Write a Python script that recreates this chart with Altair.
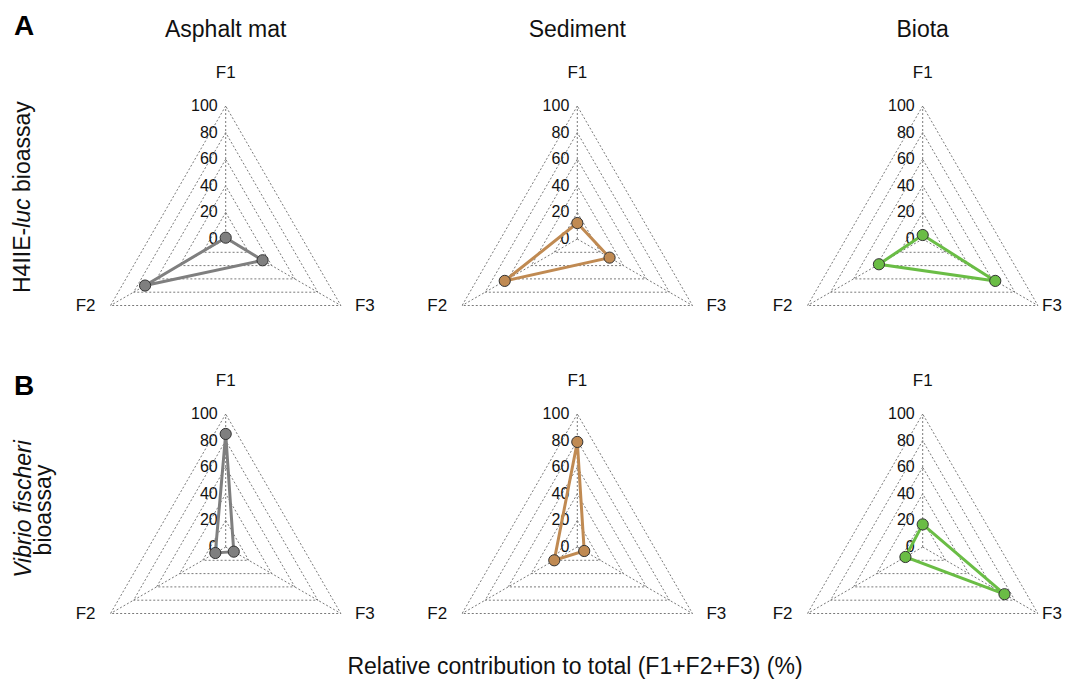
import altair as alt
import pandas as pd

# ---------------- data ----------------
samples = ["Asphalt mat", "Sediment", "Biota"]
factors = ["F1", "F2", "F3"]
h4iie_F1 = [1, 12, 3]
h4iie_F2 = [70, 63, 38]
h4iie_F3 = [32, 28, 63]
vibrio_F1 = [85, 79, 17]
vibrio_F2 = [9, 20, 15]
vibrio_F3 = [7, 6, 71]
grid_levels = [20, 40, 60, 80, 100]
tick_values = [0, 20, 40, 60, 80, 100]
colors = ["#7f7f7f", "#c08a52", "#6abd45"]

# ---------------- layout constants (chart pixels) ----------------
W, H = 1056, 672
K = 1.33  # px per % unit
CX = "[217.7, 569.3, 914.7]"
CY = "[231, 539]"
FONT = "Liberation Sans"

rows_data = [(h4iie_F1, h4iie_F2, h4iie_F3), (vibrio_F1, vibrio_F2, vibrio_F3)]

pts = []
for r, (f1, f2, f3) in enumerate(rows_data):
    for c, s in enumerate(samples):
        vals = [f1[c], f2[c], f3[c]]
        for k in range(4):
            fi = k % 3
            pts.append(dict(row=r, col=c, pid=r * 3 + c, sample=s, factor=factors[fi],
                            fidx=fi, order=k, value=vals[fi]))
pts_df = pd.DataFrame(pts)

grid = []
for r in range(2):
    for c in range(3):
        for lv in grid_levels:
            for k in range(4):
                grid.append(dict(row=r, col=c, gid=f"{r}-{c}-{lv}", fidx=k % 3, order=k, value=lv))
grid_df = pd.DataFrame(grid)

spokes = []
for r in range(2):
    for c in range(3):
        for fi in range(3):
            spokes.append(dict(row=r, col=c, fidx=fi, value=grid_levels[-1], factor=factors[fi]))
spokes_df = pd.DataFrame(spokes)

ticks = []
for r in range(2):
    for c in range(3):
        for v in tick_values:
            ticks.append(dict(row=r, col=c, value=v, label=str(v)))
ticks_df = pd.DataFrame(ticks)

# F1 up, F2 lower-left, F3 lower-right
ANG = "-datum.fidx * 2 * PI / 3"
XEXP = f"{CX}[datum.col] + datum.value * {K} * sin({ANG})"
YEXP = f"{CY}[datum.row] - datum.value * {K} * cos({ANG})"

xs = alt.Scale(domain=[0, W], nice=False, zero=False)
ys = alt.Scale(domain=[0, H], nice=False, zero=False, reverse=True)
X = alt.X("x:Q", scale=xs, axis=None)
Y = alt.Y("y:Q", scale=ys, axis=None)
color = alt.Color("sample:N", scale=alt.Scale(domain=samples, range=colors), legend=None)

grid_layer = alt.Chart(grid_df).transform_calculate(x=XEXP, y=YEXP).mark_line(
    color="#7a7a7a", strokeWidth=1, strokeDash=[2, 2]
).encode(x=X, y=Y, detail="gid:N", order="order:Q")

spoke_layer = alt.Chart(spokes_df).transform_calculate(
    x=f"{CX}[datum.col]", y=f"{CY}[datum.row]", x2=XEXP, y2=YEXP
).mark_rule(color="#7a7a7a", strokeWidth=1, strokeDash=[2, 2]).encode(
    x=X, y=Y, x2="x2:Q", y2="y2:Q"
)

tick_layer = alt.Chart(ticks_df).transform_calculate(
    x=f"{CX}[datum.col] - 8", y=f"{CY}[datum.row] - datum.value * {K}"
).mark_text(align="right", baseline="middle", fontSize=16, font=FONT, color="#111").encode(
    x=X, y=Y, text="label:N"
)

R = 100 * K
flab_base = alt.Chart(spokes_df).transform_calculate(
    x=f"{CX}[datum.col]", y=f"{CY}[datum.row]"
)
f1_layer = flab_base.transform_filter("datum.fidx == 0").transform_calculate(
    yy=f"datum.y - {R} - 33"
).mark_text(align="center", baseline="middle", fontSize=17, font=FONT, color="#111").encode(
    x=X, y=alt.Y("yy:Q", scale=ys, axis=None), text="factor:N"
)
f2_layer = flab_base.transform_filter("datum.fidx == 1").transform_calculate(
    xx=f"datum.x - {R} * 0.866 - 15", yy=f"datum.y + {R} / 2"
).mark_text(align="right", baseline="middle", fontSize=17, font=FONT, color="#111").encode(
    x=alt.X("xx:Q", scale=xs, axis=None), y=alt.Y("yy:Q", scale=ys, axis=None), text="factor:N"
)
f3_layer = flab_base.transform_filter("datum.fidx == 2").transform_calculate(
    xx=f"min(datum.x + {R} * 0.866 + 14, {W} - 22)", yy=f"datum.y + {R} / 2"
).mark_text(align="left", baseline="middle", fontSize=17, font=FONT, color="#111").encode(
    x=alt.X("xx:Q", scale=xs, axis=None), y=alt.Y("yy:Q", scale=ys, axis=None), text="factor:N"
)

line_layer = alt.Chart(pts_df).transform_calculate(x=XEXP, y=YEXP).mark_line(strokeWidth=3).encode(
    x=X, y=Y, color=color, detail="pid:N", order="order:Q"
)
point_layer = alt.Chart(pts_df).transform_filter("datum.order < 3").transform_calculate(
    x=XEXP, y=YEXP
).mark_point(filled=True, size=125, opacity=1, stroke="#333333", strokeWidth=1).encode(
    x=X, y=Y, fill=alt.Fill("sample:N", scale=alt.Scale(domain=samples, range=colors), legend=None)
)

# ---------------- texts ----------------
title_df = pd.DataFrame({"col": [0, 1, 2], "label": samples})
title_layer = alt.Chart(title_df).transform_calculate(x=f"{CX}[datum.col]", y="28.7").mark_text(
    align="center", baseline="alphabetic", fontSize=23, font=FONT, color="#111"
).encode(x=X, y=Y, text="label:N")

panel_letters = pd.DataFrame({"label": ["A", "B"], "row": [0, 1]})
letter_layer = alt.Chart(panel_letters).transform_calculate(
    x="6", y="datum.row == 0 ? 27 : 387"
).mark_text(align="left", baseline="alphabetic", fontSize=28, fontWeight="bold",
            font=FONT, color="#000").encode(x=X, y=Y, text="label:N")

rowA_parts = pd.DataFrame({"label": ["H4IIE-", "luc", "bioassay"], "style": ["normal", "italic", "normal"],
                           "pos": [285, 219.8, 184.0]})
rowA_norm = alt.Chart(rowA_parts).transform_filter("datum.style == 'normal'").transform_calculate(
    x="22", y="datum.pos"
).mark_text(align="left", baseline="alphabetic", angle=270, fontSize=23, font=FONT,
            color="#111").encode(x=X, y=Y, text="label:N")
rowA_ital = alt.Chart(rowA_parts).transform_filter("datum.style == 'italic'").transform_calculate(
    x="22", y="datum.pos"
).mark_text(align="left", baseline="alphabetic", angle=270, fontSize=23, fontStyle="italic",
            font=FONT, color="#111").encode(x=X, y=Y, text="label:N")

rowB_parts = pd.DataFrame({"label": ["Vibrio fischeri", "bioassay"], "style": ["italic", "normal"],
                           "line": [0, 1]})
rowB_ital = alt.Chart(rowB_parts).transform_filter("datum.style == 'italic'").transform_calculate(
    x="22.5", y="501"
).mark_text(align="center", baseline="alphabetic", angle=270, fontSize=23, fontStyle="italic",
            font=FONT, color="#111").encode(x=X, y=Y, text="label:N")
rowB_norm = alt.Chart(rowB_parts).transform_filter("datum.style == 'normal'").transform_calculate(
    x="43", y="502"
).mark_text(align="center", baseline="alphabetic", angle=270, fontSize=23,
            font=FONT, color="#111").encode(x=X, y=Y, text="label:N")

bottom_df = pd.DataFrame({"label": ["Relative contribution to total (F1+F2+F3) (%)"]})
bottom_layer = alt.Chart(bottom_df).transform_calculate(x="567", y="666").mark_text(
    align="center", baseline="alphabetic", fontSize=23, font=FONT, color="#111"
).encode(x=X, y=Y, text="label:N")

chart = alt.layer(
    grid_layer, spoke_layer, tick_layer, f1_layer, f2_layer, f3_layer,
    line_layer, point_layer, title_layer, letter_layer, rowA_norm, rowA_ital,
    rowB_ital, rowB_norm, bottom_layer
).properties(
    width=W, height=H, padding=0, autosize=alt.AutoSizeParams(type="none"), background="white"
).configure_view(stroke=None)

chart.save("out.html", embed_options={"renderer": "svg", "actions": False})
